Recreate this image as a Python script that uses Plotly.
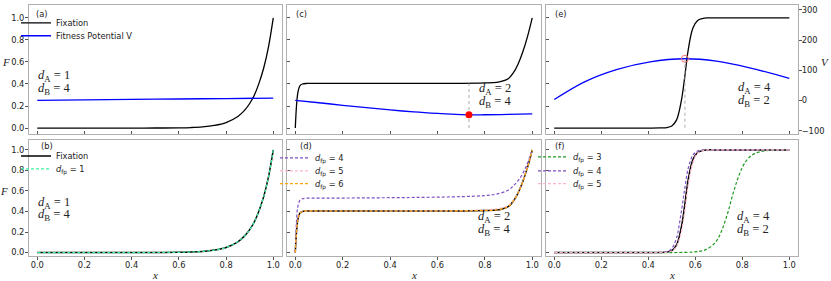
import plotly.graph_objects as go

W, H = 831, 281

# ---------------- data ----------------
# d_A=1, d_B=4 fixation probability
x_fix1 = [0, 0.1, 0.2, 0.3, 0.4, 0.5, 0.6, 0.65, 0.7, 0.75, 0.8, 0.85, 0.88, 0.9, 0.92, 0.94, 0.96, 0.98, 1.0]
F_fix1 = [0, 0, 0, 0, 0.0001, 0.0006, 0.0025, 0.005, 0.011, 0.024, 0.05, 0.105, 0.165, 0.223, 0.30, 0.41, 0.55, 0.74, 1.0]
x_V1 = [0, 0.2, 0.4, 0.6, 0.8, 1.0]
V_1 = [0.252, 0.256, 0.260, 0.264, 0.268, 0.272]

# d_A=2, d_B=4
x_fix2 = [0, 0.005, 0.01, 0.015, 0.02, 0.03, 0.05, 0.1, 0.3, 0.5, 0.7, 0.8, 0.85, 0.88, 0.9, 0.92, 0.94, 0.96, 0.98, 1.0]
F_fix2 = [0, 0.2, 0.31, 0.36, 0.385, 0.40, 0.405, 0.405, 0.405, 0.405, 0.406, 0.41, 0.415, 0.43, 0.45, 0.5, 0.58, 0.69, 0.83, 1.0]
F_fp5_2 = [0, 0.2, 0.31, 0.36, 0.385, 0.40, 0.405, 0.405, 0.405, 0.406, 0.408, 0.415, 0.425, 0.44, 0.46, 0.505, 0.58, 0.69, 0.83, 1.0]
F_fp6_2 = [0, 0.2, 0.31, 0.36, 0.385, 0.40, 0.405, 0.405, 0.405, 0.405, 0.406, 0.41, 0.415, 0.43, 0.45, 0.5, 0.58, 0.69, 0.83, 1.0]
x_fp4_2 = [0, 0.005, 0.01, 0.02, 0.03, 0.05, 0.1, 0.3, 0.5, 0.7, 0.8, 0.85, 0.9, 0.92, 0.94, 0.96, 0.98, 1.0]
F_fp4_2 = [0, 0.3, 0.44, 0.51, 0.525, 0.53, 0.53, 0.533, 0.537, 0.545, 0.555, 0.57, 0.61, 0.65, 0.70, 0.77, 0.87, 1.0]
x_V2 = [0, 0.1, 0.2, 0.3, 0.4, 0.5, 0.6, 0.7, 0.733, 0.8, 0.9, 1.0]
V_2 = [0.252, 0.23, 0.207, 0.185, 0.165, 0.147, 0.133, 0.122, 0.12, 0.121, 0.124, 0.128]
x_opt2, V_opt2, F_plateau2 = 0.733, 0.12, 0.405

# d_A=4, d_B=2
x_fix3 = [0, 0.1, 0.2, 0.3, 0.4, 0.45, 0.48, 0.5, 0.52, 0.54, 0.555, 0.57, 0.59, 0.61, 0.63, 0.65, 0.7, 0.8, 0.9, 1.0]
F_fix3 = [0, 0, 0, 0, 0, 0.001, 0.005, 0.019, 0.072, 0.24, 0.46, 0.71, 0.907, 0.975, 0.994, 1, 1, 1, 1, 1]
F_fp4_3 = [0, 0, 0, 0, 0, 0.002, 0.01, 0.04, 0.14, 0.39, 0.62, 0.82, 0.95, 0.99, 0.998, 1, 1, 1, 1, 1]
F_fp5_3 = [0, 0, 0, 0, 0, 0.001, 0.004, 0.015, 0.06, 0.2, 0.4, 0.66, 0.88, 0.97, 0.992, 1, 1, 1, 1, 1]
x_fp3_3 = [0, 0.5, 0.6, 0.64, 0.68, 0.7, 0.72, 0.74, 0.76, 0.78, 0.8, 0.82, 0.84, 0.86, 0.88, 0.9, 1.0]
F_fp3_3 = [0, 0, 0.007, 0.024, 0.085, 0.15, 0.26, 0.40, 0.57, 0.715, 0.83, 0.904, 0.948, 0.973, 0.985, 0.993, 1.0]
x_V3 = [0, 0.127, 0.268, 0.408, 0.556, 0.69, 0.831, 1.0]
V_3 = [3, 61, 103, 128, 138, 130, 108, 73]
x_opt3, V_opt3, V_low3 = 0.556, 138, -90

x_ticks = [0, 0.2, 0.4, 0.6, 0.8, 1.0]
F_ticks = [0, 0.2, 0.4, 0.6, 0.8, 1.0]
V_ticks = [-100, 0, 100, 200, 300]

# ---------------- layout geometry ----------------
def px(x):
    return x / W

def py(y):
    return 1 - y / H

cols = [(29, 282), (287, 541), (546, 798)]
rows = [(5, 135), (141, 258)]

BLACK = "black"
BLUE = "#0000ff"
PURPLE = "#7d4fc4"
PINK = "#ffb6c8"
ORANGE = "#ffa500"
GREEN = "#1f9a1f"
MINT = "#3cf0a0"
FRAME = "#b0b0b0"
DASH = "3px,2px"

fig = go.Figure()

def line(x, y, xa, ya, color, width=1.3, dash=None, name=None, legend=None):
    fig.add_trace(go.Scatter(
        x=x, y=y, xaxis=xa, yaxis=ya, mode="lines", line_shape="spline",
        line=dict(color=color, width=width, dash=dash),
        name=name, showlegend=name is not None, legend=legend,
        hoverinfo="skip"))

# (a)
line(x_fix1, F_fix1, "x", "y", BLACK, name="Fixation", legend="legend")
line(x_V1, V_1, "x", "y", BLUE, name="Fitness Potential V", legend="legend2")
# (c)
line(x_fix2, F_fix2, "x2", "y2", BLACK)
line(x_V2, V_2, "x2", "y2", BLUE)
fig.add_trace(go.Scatter(x=[x_opt2, x_opt2], y=[0, F_plateau2], xaxis="x2", yaxis="y2", mode="lines",
                         line=dict(color="#aaaaaa", width=1, dash="dot"), showlegend=False,
                         hoverinfo="skip"))
fig.add_trace(go.Scatter(x=[x_opt2], y=[V_opt2], xaxis="x2", yaxis="y2", mode="markers",
                         marker=dict(color="red", size=7), showlegend=False, hoverinfo="skip"))
# (e)
line(x_fix3, F_fix3, "x3", "y3", BLACK)
line(x_V3, V_3, "x3", "y7", BLUE)
fig.add_trace(go.Scatter(x=[x_opt3, x_opt3], y=[V_low3, V_opt3], xaxis="x3", yaxis="y7", mode="lines",
                         line=dict(color="#aaaaaa", width=1, dash="dot"), showlegend=False,
                         hoverinfo="skip"))
fig.add_trace(go.Scatter(x=[x_opt3], y=[V_opt3], xaxis="x3", yaxis="y7", mode="markers",
                         marker=dict(color="#f07070", size=7, symbol="circle-open", line=dict(width=1)),
                         showlegend=False, hoverinfo="skip"))
# (b)
line(x_fix1, F_fix1, "x4", "y4", BLACK, width=1.5, name="Fixation", legend="legend3")
line(x_fix1, F_fix1, "x4", "y4", MINT, width=1.2, dash=DASH,
     name="<i>d</i><sub>fp</sub> = 1", legend="legend4")
# (d)
line(x_fix2, F_fix2, "x5", "y5", BLACK, width=1.5)
line(x_fp4_2, F_fp4_2, "x5", "y5", PURPLE, width=1.2, dash=DASH,
     name="<i>d</i><sub>fp</sub> = 4", legend="legend5")
line(x_fix2, F_fp5_2, "x5", "y5", PINK, width=1.2, dash=DASH,
     name="<i>d</i><sub>fp</sub> = 5", legend="legend6")
line(x_fix2, F_fp6_2, "x5", "y5", ORANGE, width=1.2, dash=DASH,
     name="<i>d</i><sub>fp</sub> = 6", legend="legend7")
# (f)
line(x_fix3, F_fix3, "x6", "y6", BLACK, width=1.5)
line(x_fp3_3, F_fp3_3, "x6", "y6", GREEN, width=1.2, dash=DASH,
     name="<i>d</i><sub>fp</sub> = 3", legend="legend8")
line(x_fix3, F_fp4_3, "x6", "y6", PURPLE, width=1.2, dash=DASH,
     name="<i>d</i><sub>fp</sub> = 4", legend="legend9")
line(x_fix3, F_fp5_3, "x6", "y6", PINK, width=1.2, dash=DASH,
     name="<i>d</i><sub>fp</sub> = 5", legend="legend10")

FS = 8.3
TICKFONT = dict(family="DejaVu Sans", size=FS, color="#222222")
XR = [-0.035, 1.037]
YR1 = [-0.054, 1.117]
YR2 = [-0.035, 1.097]

layout = dict(width=W, height=H, margin=dict(l=0, r=0, t=0, b=0),
              paper_bgcolor="white", plot_bgcolor="white", showlegend=True,
              hovermode=False)

for i in range(6):
    r, c = divmod(i, 3)
    sfx = "" if i == 0 else str(i + 1)
    labeled_x = (r == 1)
    labeled_y = (c == 0)
    layout["xaxis" + sfx] = dict(
        domain=[px(cols[c][0]), px(cols[c][1])], anchor="y" + sfx, range=XR,
        tickvals=x_ticks, ticktext=[f"{v:.1f}" for v in x_ticks],
        showticklabels=labeled_x, ticks="outside" if labeled_x else "inside", ticklen=3,
        ticklabelstandoff=-2,
        tickcolor="#555555", showline=True, linecolor=FRAME, linewidth=1, mirror=True,
        showgrid=False, zeroline=False, tickfont=TICKFONT)
    layout["yaxis" + sfx] = dict(
        domain=[py(rows[r][1]), py(rows[r][0])], anchor="x" + sfx,
        range=YR1 if r == 0 else YR2,
        tickvals=F_ticks, ticktext=[f"{v:.1f}" for v in F_ticks],
        showticklabels=labeled_y, ticks="outside" if labeled_y else "inside", ticklen=3,
        ticklabelstandoff=-1,
        tickcolor="#555555", showline=True, linecolor=FRAME, linewidth=1, mirror=True,
        showgrid=False, zeroline=False, tickfont=TICKFONT)

layout["yaxis7"] = dict(overlaying="y3", side="right", anchor="x3", range=[-111, 316],
                        tickvals=V_ticks, ticks="outside", ticklen=3, tickcolor="#555555",
                        ticklabelstandoff=-2,
                        showgrid=False, zeroline=False, showline=False, tickfont=TICKFONT)

# legends: one entry each, placed where the reference has them
LEGFONT = dict(family="DejaVu Sans", size=FS, color="#222222")
leg_pos = {
    "legend": (16, 23), "legend2": (16, 36),
    "legend3": (16, 157), "legend4": (16, 170),
    "legend5": (275, 159), "legend6": (275, 172), "legend7": (275, 185),
    "legend8": (533, 158), "legend9": (533, 172), "legend10": (533, 185),
}
for k, (lx, ly) in leg_pos.items():
    layout[k] = dict(x=px(lx), y=py(ly), xanchor="left", yanchor="middle",
                     bgcolor="rgba(0,0,0,0)", borderwidth=0, font=LEGFONT,
                     itemclick=False, itemdoubleclick=False)

fig.update_layout(**layout)

ann = []
def text(x, y, s, size=FS, family="DejaVu Sans", xanchor="left", color="#222222"):
    ann.append(dict(x=px(x), y=py(y), xref="paper", yref="paper", text=s, showarrow=False,
                    xanchor=xanchor, yanchor="middle", font=dict(family=family, size=size, color=color)))

for lab, (x0, y0) in {"(a)": (34, 14), "(c)": (294, 14), "(e)": (553, 14),
                      "(b)": (39, 147), "(d)": (298, 147), "(f)": (553, 147)}.items():
    text(x0, y0, lab)

SERIF = "Liberation Serif"
def dlabels(x0, y0, a, b):
    text(x0, y0, f"<i>d</i><sub>A</sub> = {a}", size=12.5, family=SERIF)
    text(x0, y0 + 13, f"<i>d</i><sub>B</sub> = {b}", size=12.5, family=SERIF)

dlabels(36, 77, 1, 4)
dlabels(477, 90, 2, 4)
dlabels(736, 89, 4, 2)
dlabels(36, 204, 1, 4)
dlabels(476, 219, 2, 4)
dlabels(735, 219, 4, 2)

text(6, 62, "<i>F</i>", size=11, family=SERIF, xanchor="center")
text(4, 192, "<i>F</i>", size=11, family=SERIF, xanchor="center")
text(825, 62, "<i>V</i>", size=11, family=SERIF, xanchor="center")
for xc in (155, 414, 672):
    text(xc, 277, "<i>x</i>", size=11, family=SERIF, xanchor="center")

fig.update_layout(annotations=ann)
fig.write_html("out.html", config={"displayModeBar": False},
               post_script="document.body.style.margin='0';document.body.style.overflow='hidden';")
